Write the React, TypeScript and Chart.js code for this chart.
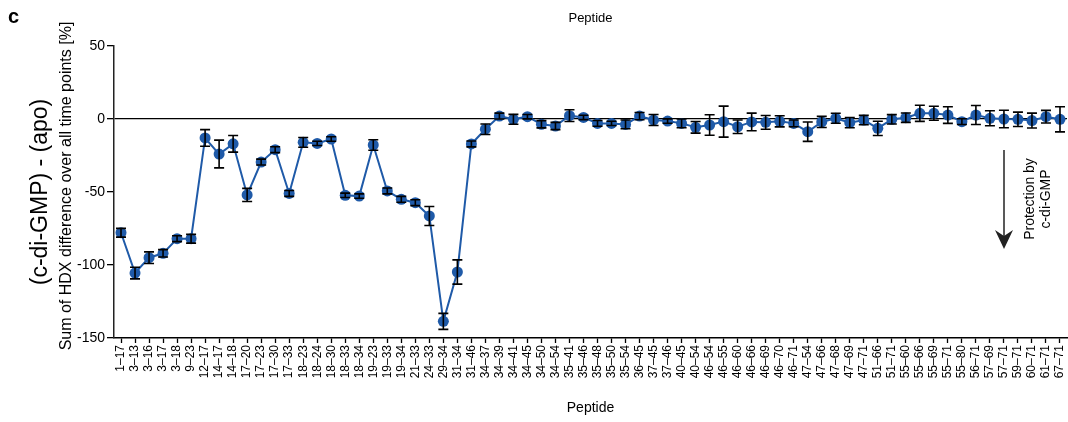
import React, { useEffect, useRef } from "react";
import { Chart, registerables } from "chart.js";

Chart.register(...registerables);

const peptides = [
  "1–17", "3–13", "3–16", "3–17", "3–18", "9–23", "12–17", "14–17", "14–18", "17–20",
  "17–23", "17–30", "17–33", "18–23", "18–24", "18–30", "18–33", "18–34", "19–23", "19–33",
  "19–34", "21–33", "24–33", "29–34", "31–34", "31–46", "34–37", "34–39", "34–41", "34–45",
  "34–50", "34–54", "35–41", "35–46", "35–48", "35–50", "35–54", "36–45", "37–45", "37–46",
  "40–45", "40–54", "46–54", "46–55", "46–60", "46–66", "46–69", "46–70", "46–71", "47–54",
  "47–66", "47–68", "47–69", "47–71", "51–66", "51–71", "55–60", "55–66", "55–69", "55–71",
  "55–80", "56–71", "57–69", "57–71", "59–71", "60–71", "61–71", "67–71",
];

const hdxDifference = [
  -77.9, -105.5, -95, -92, -82, -82, -13, -24, -17, -52,
  -29.5, -21, -51, -16, -16.7, -13.7, -52.3, -52.8, -17.8, -49.3,
  -55, -57.3, -66.4, -138.6, -104.8, -17.1, -7, 2, -0.2, 1.6,
  -3.6, -4.8, 2.3, 1.1, -3, -3, -3.7, 2, -0.7, -1.4,
  -3, -5.7, -4.1, -1.8, -5.3, -2, -2.3, -1.6, -3, -8.7,
  -2, 0.5, -2.5, -0.7, -6.4, -0.2, 0.9, 3.9, 3.9, 2.7,
  -1.8, 2.7, 0.5, 0, -0.2, -1.1, 1.6, -0.2,
];

const hdxError = [
  3, 4, 4, 2.5, 2, 3, 5.7, 9.5, 5.7, 4.5,
  2, 2, 2, 3.3, 1.5, 1.5, 1.5, 1.5, 3.6, 2,
  2, 2, 6.5, 5.5, 8.3, 2, 3.6, 2, 3.4, 1.5,
  2.5, 2.5, 4, 1.5, 2, 1.5, 3, 2.5, 3.8, 1.5,
  3, 4, 7, 10.6, 4.6, 6, 4.7, 3.8, 2.3, 6.6,
  3.8, 3.4, 3.5, 3.2, 4.9, 3.2, 3.2, 5.5, 4.8, 5.7,
  2, 6.5, 5.1, 6, 4.9, 5.1, 4.3, 8.6,
];

const yTicks = [-150, -100, -50, 0, 50];

const FONT = '"Liberation Sans", Arial, sans-serif';
const BLUE = "#1f5aa8";

const errorBarPlugin = {
  id: "errorBars",
  afterDatasetsDraw(chart: any) {
    const { ctx } = chart;
    const xs = chart.scales.x;
    const ys = chart.scales.y;
    ctx.save();
    ctx.strokeStyle = "#000";
    ctx.lineWidth = 1.6;
    hdxDifference.forEach((v, i) => {
      const e = hdxError[i];
      const x = xs.getPixelForValue(i);
      const yt = ys.getPixelForValue(v + e);
      const yb = ys.getPixelForValue(v - e);
      const cap = 5;
      ctx.beginPath();
      ctx.moveTo(x, yt);
      ctx.lineTo(x, yb);
      ctx.moveTo(x - cap, yt);
      ctx.lineTo(x + cap, yt);
      ctx.moveTo(x - cap, yb);
      ctx.lineTo(x + cap, yb);
      ctx.stroke();
    });
    ctx.restore();
  },
};

const textPlugin = {
  id: "texts",
  afterDraw(chart: any) {
    const { ctx, chartArea } = chart;
    const cx = (chartArea.left + chartArea.right) / 2;
    ctx.save();
    ctx.fillStyle = "#000";
    ctx.font = `bold 20px ${FONT}`;
    ctx.textAlign = "left";
    ctx.textBaseline = "middle";
    ctx.fillText("c", 8, 17);
    ctx.font = `13px ${FONT}`;
    ctx.textAlign = "center";
    ctx.fillText("Peptide", cx, 18);
    ctx.font = `14px ${FONT}`;
    ctx.fillText("Peptide", cx, 408);
    ctx.save();
    ctx.translate(41, 192);
    ctx.rotate(-Math.PI / 2);
    ctx.font = `23px ${FONT}`;
    ctx.fillText("(c-di-GMP) - (apo)", 0, 0);
    ctx.restore();
    ctx.save();
    ctx.translate(67, 186);
    ctx.rotate(-Math.PI / 2);
    ctx.font = `16px ${FONT}`;
    ctx.fillText("Sum of HDX difference over all time points [%]", 0, 0);
    ctx.restore();
    const ax = 1004;
    ctx.strokeStyle = "#222";
    ctx.fillStyle = "#222";
    ctx.lineWidth = 1.5;
    ctx.beginPath();
    ctx.moveTo(ax, 150);
    ctx.lineTo(ax, 236);
    ctx.stroke();
    ctx.beginPath();
    ctx.moveTo(ax - 9, 230);
    ctx.lineTo(ax, 249);
    ctx.lineTo(ax + 9, 230);
    ctx.lineTo(ax, 236);
    ctx.closePath();
    ctx.fill();
    ctx.save();
    ctx.translate(1030, 199);
    ctx.rotate(-Math.PI / 2);
    ctx.fillStyle = "#000";
    ctx.font = `14px ${FONT}`;
    ctx.fillText("Protection by", 0, 0);
    ctx.fillText("c-di-GMP", 0, 16);
    ctx.restore();
    ctx.restore();
  },
};

export default function App() {
  const ref = useRef<HTMLCanvasElement | null>(null);
  useEffect(() => {
    document.body.style.margin = "0";
    const canvas = ref.current!;
    const chart = new Chart(canvas, {
      type: "line",
      data: {
        labels: peptides,
        datasets: [
          {
            data: hdxDifference,
            borderColor: BLUE,
            backgroundColor: BLUE,
            borderWidth: 2,
            pointRadius: 5.5,
            pointBackgroundColor: BLUE,
            pointBorderWidth: 0,
            tension: 0,
            clip: false,
          },
        ],
      },
      options: {
        animation: false,
        responsive: false,
        maintainAspectRatio: false,
        layout: { autoPadding: false, padding: { top: 46, right: 1, left: 0, bottom: 0 } },
        plugins: {
          legend: { display: false },
          tooltip: { enabled: false },
          title: { display: false },
        },
        scales: {
          x: {
            type: "category",
            offset: true,
            grid: {
              drawOnChartArea: false,
              drawTicks: true,
              tickLength: 5,
              tickColor: "#000",
              tickWidth: 1.3,
            },
            border: { display: true, color: "#000", width: 1.5 },
            ticks: {
              autoSkip: false,
              maxRotation: 90,
              minRotation: 90,
              padding: 2,
              color: "#000",
              font: { family: FONT, size: 12 },
            },
            afterFit(scale: any) {
              scale.height = 84;
              scale.paddingLeft = 0;
              scale.paddingRight = 0;
            },
          },
          y: {
            min: -150,
            max: 50,
            afterBuildTicks(scale: any) {
              scale.ticks = yTicks.map((v) => ({ value: v }));
            },
            grid: {
              color: (c: any) => (c.tick && c.tick.value === 0 ? "#000" : "rgba(0,0,0,0)"),
              lineWidth: 1.3,
              drawTicks: true,
              tickLength: 7,
              tickColor: "#000",
              tickWidth: 1.3,
            },
            border: { display: true, color: "#222", width: 1.5 },
            ticks: {
              padding: 2,
              color: "#000",
              font: { family: FONT, size: 14 },
            },
            afterFit(scale: any) {
              scale.width = 114;
            },
          },
        },
      },
      plugins: [errorBarPlugin, textPlugin],
    });
    return () => chart.destroy();
  }, []);
  return (
    <div style={{ width: 1068, height: 422 }}>
      <canvas ref={ref} width={1068} height={422} style={{ display: "block" }} />
    </div>
  );
}
